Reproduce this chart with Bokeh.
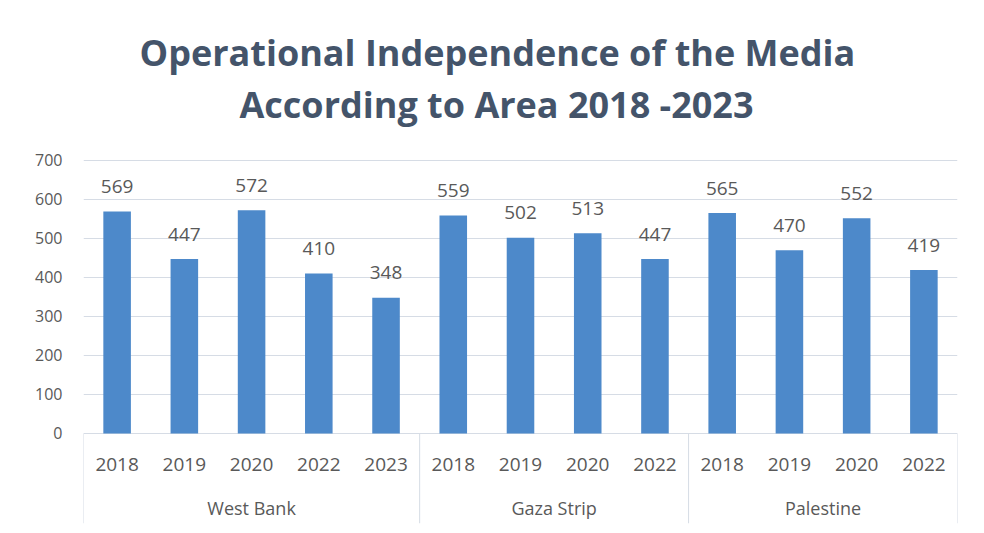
from bokeh.plotting import figure
from bokeh.models import Range1d, FixedTicker, Title, ColumnDataSource
from bokeh.core.properties import value
from bokeh.embed import file_html
from bokeh.resources import INLINE
import numpy as np

# ---- data ----
groups = ["West Bank", "Gaza Strip", "Palestine"]
group_years = [
    ["2018", "2019", "2020", "2022", "2023"],
    ["2018", "2019", "2020", "2022"],
    ["2018", "2019", "2020", "2022"],
]
west_bank = [569, 447, 572, 410, 348]
gaza_strip = [559, 502, 513, 447]
palestine = [565, 470, 552, 419]
y_ticks = [0, 100, 200, 300, 400, 500, 600, 700]
title_lines = ["Operational Independence of the Media", "According to Area 2018 -2023"]

series = [west_bank, gaza_strip, palestine]
years = [y for ys in group_years for y in ys]
vals = [v for s in series for v in s]
n = len(vals)
xs = np.arange(n) + 0.5
sizes = [len(s) for s in series]
bounds = np.concatenate([[0], np.cumsum(sizes)])
centers = (bounds[:-1] + bounds[1:]) / 2

FONT = "Open Sans"
TXT = "#595959"
GRID = "#d6dce5"

p = figure(width=976, height=525, output_backend="svg", toolbar_location=None,
           x_range=Range1d(0, n), y_range=Range1d(-231, 705),
           min_border_left=83, min_border_right=19, min_border_bottom=2,
           min_border_top=158)
p.outline_line_color = None
p.xaxis.visible = False
p.xgrid.grid_line_color = None
p.yaxis.ticker = FixedTicker(ticks=y_ticks)
p.yaxis.axis_line_color = None
p.yaxis.major_tick_line_color = None
p.yaxis.minor_tick_line_color = None
p.yaxis.major_label_text_font = FONT
p.yaxis.major_label_text_font_size = "16px"
p.yaxis.major_label_text_color = TXT
p.yaxis.major_label_standoff = 15
p.ygrid.grid_line_color = GRID
p.ygrid.grid_line_width = 1

src = ColumnDataSource(dict(x=xs, top=vals, lab=[str(v) for v in vals], year=years))
p.vbar(x="x", top="top", width=0.41, bottom=0, source=src,
       fill_color="#4d89ca", line_color=None)
p.text(x="x", y="top", text="lab", source=src, text_font=value(FONT),
       text_font_size="19px", text_color=TXT, text_align="center",
       text_baseline="middle", y_offset=-25)
p.text(x="x", y=0, text="year", source=src, text_font=value(FONT),
       text_font_size="19px", text_color=TXT, text_align="center",
       text_baseline="middle", y_offset=31)
p.text(x=centers, y=[0] * len(groups), text=groups, text_font=value(FONT),
       text_font_size="18px", text_color=TXT, text_align="center",
       text_baseline="middle", y_offset=75)
p.segment(x0=bounds, y0=[0] * len(bounds), x1=bounds, y1=[-231] * len(bounds),
          line_color=GRID, line_width=1)

# spacer between the frame and the title block
p.add_layout(Title(text=" ", text_font_size="16px", standoff=11), "above")
standoffs = [2, 0]
offsets = [56, 156]
for t, so, off in reversed(list(zip(title_lines, standoffs, offsets))):
    p.add_layout(Title(text=t, align="left", text_font=FONT, text_font_size="36px",
                       text_font_style="bold", text_color="#44546a", standoff=so,
                       offset=off), "above")

open("out.html", "w").write(file_html(p, INLINE))
